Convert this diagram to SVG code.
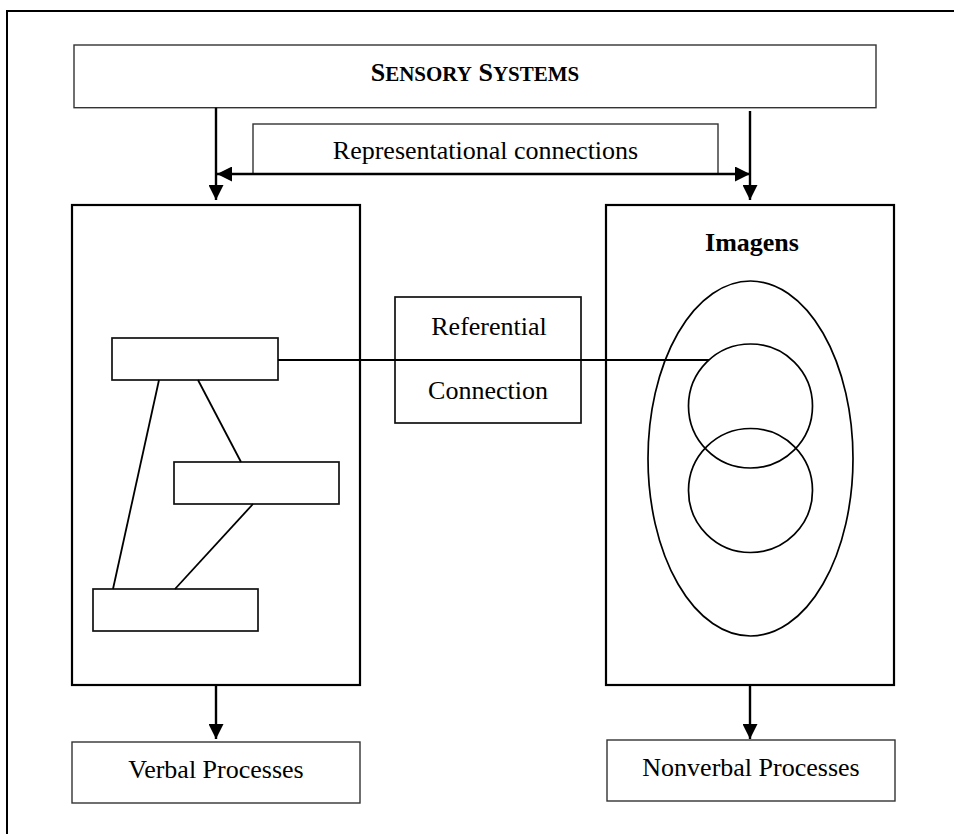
<svg xmlns="http://www.w3.org/2000/svg" width="954" height="834" viewBox="0 0 954 834">
<style>
.frame{fill:#fff;stroke:#000;stroke-width:2.2}
.box{fill:#fff;stroke:#111;stroke-width:1.7}
.thin{fill:#fff;stroke:#333;stroke-width:1.4}
.ell{fill:none;stroke:#000;stroke-width:1.7}
.t{font-family:"Liberation Serif","Times New Roman",serif;font-size:26px;fill:#000;text-anchor:middle}
.b{font-weight:bold}
.con{stroke:#000;stroke-width:1.8;fill:none}
.arr{stroke:#000;stroke-width:2.4;fill:none}
</style>
<defs>
<marker id="ah" viewBox="0 0 15 15" refX="15" refY="7.5" markerWidth="15" markerHeight="15" markerUnits="userSpaceOnUse" orient="auto-start-reverse">
<path d="M0,0 L15,7.5 L0,15 Z" fill="#000"/>
</marker>
</defs>
<rect width="954" height="834" fill="#fff"/>
<rect id="outer-frame" x="7" y="11" width="1000" height="1000" fill="none" stroke="#000" stroke-width="2"/>

<g id="sensory-systems">
<rect class="thin" x="74" y="45" width="802" height="62.7"/>
<text class="t b" x="475" y="81">S<tspan font-size="21">ENSORY</tspan> S<tspan font-size="21">YSTEMS</tspan></text>
</g>

<g id="representational-connections">
<rect class="thin" x="253" y="124" width="465" height="50"/>
<text class="t" x="485.5" y="159">Representational connections</text>
</g>

<g id="verbal-system">
<rect class="frame" x="72" y="205" width="288" height="480"/>
</g>

<g id="nonverbal-system">
<rect class="frame" x="606" y="205" width="288" height="480"/>
<text class="t b" x="752" y="251">Imagens</text>
</g>

<g id="referential-connection">
<rect class="box" x="395" y="297" width="186" height="126"/>
<text class="t" x="489" y="335">Referential</text>
<text class="t" x="488" y="399">Connection</text>
</g>

<g id="logogen-1"><rect class="box" x="112" y="338" width="166" height="42"/></g>
<g id="logogen-2"><rect class="box" x="174" y="462" width="165" height="42"/></g>
<g id="logogen-3"><rect class="box" x="93" y="589" width="165" height="42"/></g>

<g id="imagen-set">
<ellipse class="ell" cx="750.5" cy="458.5" rx="102.5" ry="177.5"/>
<circle id="imagen-1" class="ell" cx="750.5" cy="406" r="62"/>
<circle id="imagen-2" class="ell" cx="750.5" cy="490.5" r="62"/>
</g>

<g id="verbal-processes">
<rect class="thin" x="72" y="742" width="288" height="61"/>
<text class="t" x="216" y="778">Verbal Processes</text>
</g>

<g id="nonverbal-processes">
<rect class="thin" x="607" y="740" width="288" height="61"/>
<text class="t" x="751" y="776">Nonverbal Processes</text>
</g>

<g id="connectors">
<line class="con" x1="278" y1="360" x2="709" y2="360"/>
<line class="con" x1="159" y1="380" x2="113" y2="589"/>
<line class="con" x1="198" y1="380" x2="241" y2="462"/>
<line class="con" x1="253" y1="504" x2="175" y2="589"/>
<line class="arr" x1="216" y1="107.7" x2="216" y2="200" marker-end="url(#ah)"/>
<line class="arr" x1="750" y1="111" x2="750" y2="200" marker-end="url(#ah)"/>
<line class="arr" x1="217" y1="174" x2="750" y2="174" marker-start="url(#ah)" marker-end="url(#ah)"/>
<line class="arr" x1="216" y1="685" x2="216" y2="739" marker-end="url(#ah)"/>
<line class="arr" x1="750" y1="685" x2="750" y2="739" marker-end="url(#ah)"/>
</g>
</svg>
